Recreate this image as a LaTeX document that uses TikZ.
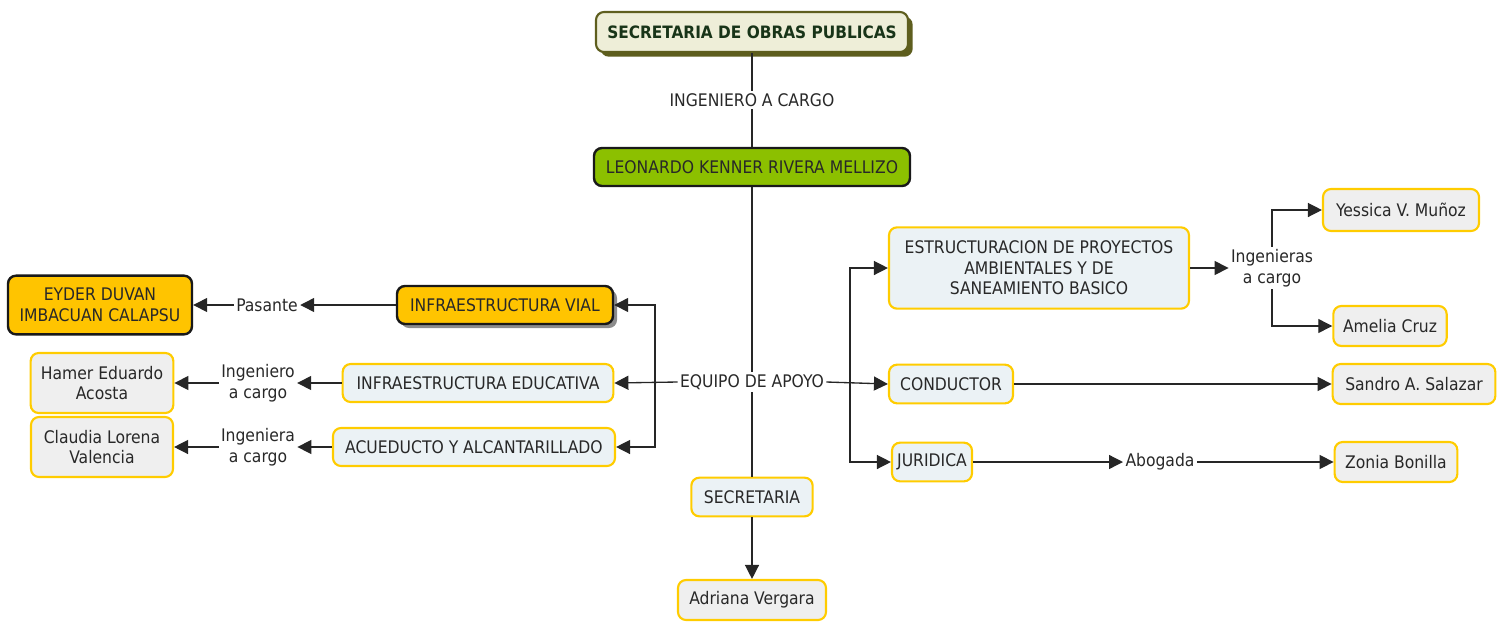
\documentclass[tikz,border=0pt]{standalone}
\usepackage{fontspec}
\setmainfont{DejaVu Sans Condensed}
\usetikzlibrary{arrows.meta,shadows}

\definecolor{cOlive}{RGB}{94,94,30}
\definecolor{cBeige}{RGB}{238,238,216}
\definecolor{cGreenTxt}{RGB}{24,52,24}
\definecolor{cLime}{RGB}{140,192,0}
\definecolor{cAmber}{RGB}{255,196,0}
\definecolor{cGold}{RGB}{255,204,0}
\definecolor{cIce}{RGB}{235,242,245}
\definecolor{cGrey}{RGB}{239,239,239}
\definecolor{cText}{RGB}{40,40,40}

\tikzset{every picture/.style={line width=0.75pt}}
\tikzset{
  concept/.style={rounded corners=6pt, align=center, text=cText, inner sep=2pt, font=\fontsize{13}{15.5}\selectfont},
  branch/.style={concept, draw=cGold, line width=1.6pt, fill=cIce},
  person/.style={concept, draw=cGold, line width=1.6pt, fill=cGrey},
  linkword/.style={align=center, text=cText, inner sep=1.5pt, font=\fontsize{13}{15.5}\selectfont},
  conn/.style={draw=black!85, line width=1pt},
  arr/.style={conn, -{Triangle[length=10.5pt,width=10.5pt]}},
}

\begin{document}
\begin{tikzpicture}[x=0.75pt,y=0.75pt,yscale=-1,xscale=1]
	\useasboundingbox (0,0) rectangle (1503,622);

	%top of the chart
	\node [concept, draw=cOlive, line width=1.6pt, fill=cBeige, text=cGreenTxt, font=\fontsize{12.8}{15}\selectfont\bfseries,
	  minimum width=234pt, minimum height=30pt, drop shadow={shadow xshift=3.5pt, shadow yshift=-3.5pt, fill=cOlive, opacity=1}] (sop) at (752,32) {SECRETARIA DE OBRAS PUBLICAS};
	\node [linkword] (ingcargo) at (752,100) {INGENIERO A CARGO};
	\node [concept, draw=black!90, line width=1.8pt, fill=cLime, minimum width=237pt, minimum height=28.5pt] (leo) at (752,167) {LEONARDO KENNER RIVERA MELLIZO};
	\node [linkword] (equipo) at (752,382) {EQUIPO DE APOYO};

	%left side
	\node [concept, draw=black!90, line width=1.8pt, fill=cAmber, minimum width=162pt, minimum height=28.5pt,
	  drop shadow={shadow xshift=3pt, shadow yshift=-3pt, fill=black!45, opacity=1}] (vial) at (505,305) {INFRAESTRUCTURA VIAL};
	\node [branch, minimum width=203pt, minimum height=28.5pt] (educ) at (478,383) {INFRAESTRUCTURA EDUCATIVA};
	\node [branch, minimum width=211.5pt, minimum height=28.5pt] (acued) at (474,447) {ACUEDUCTO Y ALCANTARILLADO};
	\node [linkword] (pasante) at (267,305) {Pasante};
	\node [linkword] (ingeniero) at (258,383) {Ingeniero\\a cargo};
	\node [linkword] (ingeniera) at (258,447) {Ingeniera\\a cargo};
	\node [concept, draw=black!90, line width=1.8pt, fill=cAmber, minimum width=138pt, minimum height=44pt] (eyder) at (100,305) {EYDER DUVAN\\IMBACUAN CALAPSU};
	\node [person, minimum width=107pt, minimum height=45pt] (hamer) at (102,383) {Hamer Eduardo\\Acosta};
	\node [person, minimum width=106.5pt, minimum height=45pt] (claudia) at (102,447) {Claudia Lorena\\Valencia};

	%bottom
	\node [branch, minimum width=91pt, minimum height=29pt] (secre) at (752,497) {SECRETARIA};
	\node [person, minimum width=111pt, minimum height=30pt] (adriana) at (752,600) {Adriana Vergara};

	%right side
	\node [branch, minimum width=225pt, minimum height=61pt] (estruc) at (1039,268) {ESTRUCTURACION DE PROYECTOS\\AMBIENTALES Y DE\\SANEAMIENTO BASICO};
	\node [branch, minimum width=93pt, minimum height=29pt] (cond) at (951,384) {CONDUCTOR};
	\node [branch, minimum width=60pt, minimum height=29pt] (jurid) at (932,462) {JURIDICA};
	\node [linkword] (ingenieras) at (1272,268) {Ingenieras\\a cargo};
	\node [linkword] (abogada) at (1160,462) {Abogada};
	\node [person, minimum width=117pt, minimum height=31.5pt] (yessica) at (1401,210) {Yessica V. Muñoz};
	\node [person, minimum width=85pt, minimum height=30pt] (amelia) at (1390,326) {Amelia Cruz};
	\node [person, minimum width=122pt, minimum height=30pt] (sandro) at (1414,384) {Sandro A. Salazar};
	\node [person, minimum width=92pt, minimum height=30pt] (zonia) at (1396,462) {Zonia Bonilla};

	\coordinate (forkL) at (655,382);
	\coordinate (forkR) at (850,382);

	%connectors
	\draw [conn] (sop) -- (ingcargo);
	\draw [conn] (ingcargo) -- (leo);
	\draw [conn] (leo) -- (equipo);
	\draw [conn] (equipo) -- (secre);
	\draw [arr] (secre) -- (adriana);

	\draw [arr] (equipo.west) -- (educ.east);
	\draw [arr] (forkL) |- (vial.east);
	\draw [arr] (forkL) |- (acued.east);
	\draw [arr] (vial) -- (pasante);
	\draw [arr] (pasante) -- (eyder);
	\draw [arr] (educ) -- (ingeniero);
	\draw [arr] (ingeniero) -- (hamer);
	\draw [arr] (acued) -- (ingeniera);
	\draw [arr] (ingeniera) -- (claudia);

	\draw [arr] (equipo.east) -- (cond.west);
	\draw [arr] (forkR) |- (estruc.west);
	\draw [arr] (forkR) |- (jurid.west);
	\draw [arr] (estruc) -- (ingenieras);
	\draw [arr] (ingenieras.north) |- (yessica.west);
	\draw [arr] (ingenieras.south) |- (amelia.west);
	\draw [arr] (cond) -- (sandro);
	\draw [arr] (jurid) -- (abogada);
	\draw [arr] (abogada) -- (zonia);

\end{tikzpicture}
\end{document}
